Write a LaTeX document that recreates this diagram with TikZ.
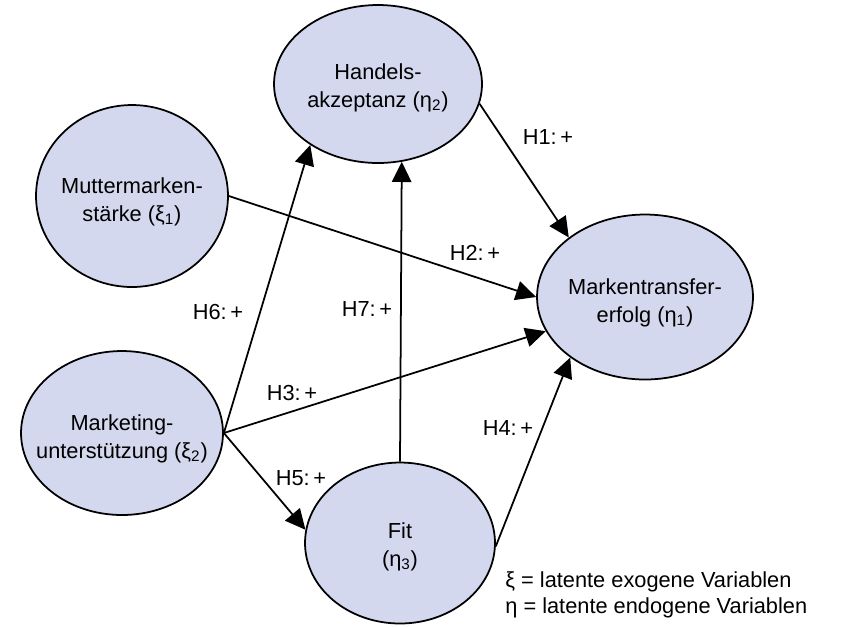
\documentclass[tikz,border=0pt]{standalone}
\usepackage{fontspec}
\setmainfont{Liberation Sans}
\usetikzlibrary{shapes.geometric,arrows.meta}
\definecolor{latfill}{RGB}{212,216,238}
\begin{document}
\begin{tikzpicture}[x=0.02cm, y=-0.02cm, font=\fontsize{12.4}{15.8}\selectfont, line join=round, >={Triangle[length=11.5pt,width=11pt]},
	lat/.style={ellipse, draw, fill=latfill, line width=1pt, inner sep=0pt},
	lattext/.style={align=center, inner sep=0pt},
	pfeil/.style={->, line width=1pt}]
	\useasboundingbox (0,0) rectangle (844,627);
	% latente Variablen
	\node[lat, minimum width=4.16cm, minimum height=3.16cm] (hak) at (378,84) {};
	\node[lat, minimum width=3.84cm, minimum height=3.64cm] (mms) at (132,196) {};
	\node[lat, minimum width=4.04cm, minimum height=3.28cm] (mus) at (122,433) {};
	\node[lat, minimum width=3.8cm, minimum height=3.22cm] (fit) at (400,543) {};
	\node[lat, minimum width=4.32cm, minimum height=3.3cm] (mte) at (645,297) {};
	\node[lattext] (hakt) at (378,88) {Handels-\\akzeptanz (η\textsubscript{2})};
	\node[lattext] (mmst) at (132,202) {Muttermarken-\\stärke (ξ\textsubscript{1})};
	\node[lattext] (must) at (122,439) {Marketing-\\unterstützung (ξ\textsubscript{2})};
	\node[lattext] (fitt) at (400,547) {Fit\\(η\textsubscript{3})};
	\node[lattext] (mtet) at (645,303) {Markentransfer-\\erfolg (η\textsubscript{1})};
	% Hypothesen
	\draw[pfeil] (hak.-11) -- (mte.142);
	\draw[pfeil] (mms.east) -- (mte.west);
	\draw[pfeil] (mus.east) -- (mte.-161);
	\draw[pfeil] (fit.-2) -- (mte.-141);
	\draw[pfeil] (mus.east) -- (fit.172);
	\draw[pfeil] (mus.east) -- (hak.-138);
	\draw[pfeil] (fit.north) -- (hak.-73);
	\node (h1) at (548,137) {H1:\,+};
	\node (h2) at (475,253) {H2:\,+};
	\node (h3) at (292,393) {H3:\,+};
	\node (h4) at (508,428) {H4:\,+};
	\node (h5) at (301,478) {H5:\,+};
	\node (h6) at (218,312) {H6:\,+};
	\node (h7) at (367,309) {H7:\,+};
	% Legende
	\node[anchor=base west, inner sep=0pt] (leg1) at (505,587) {ξ = latente exogene Variablen};
	\node[anchor=base west, inner sep=0pt] (leg2) at (505,613) {η = latente endogene Variablen};
\end{tikzpicture}
\end{document}
